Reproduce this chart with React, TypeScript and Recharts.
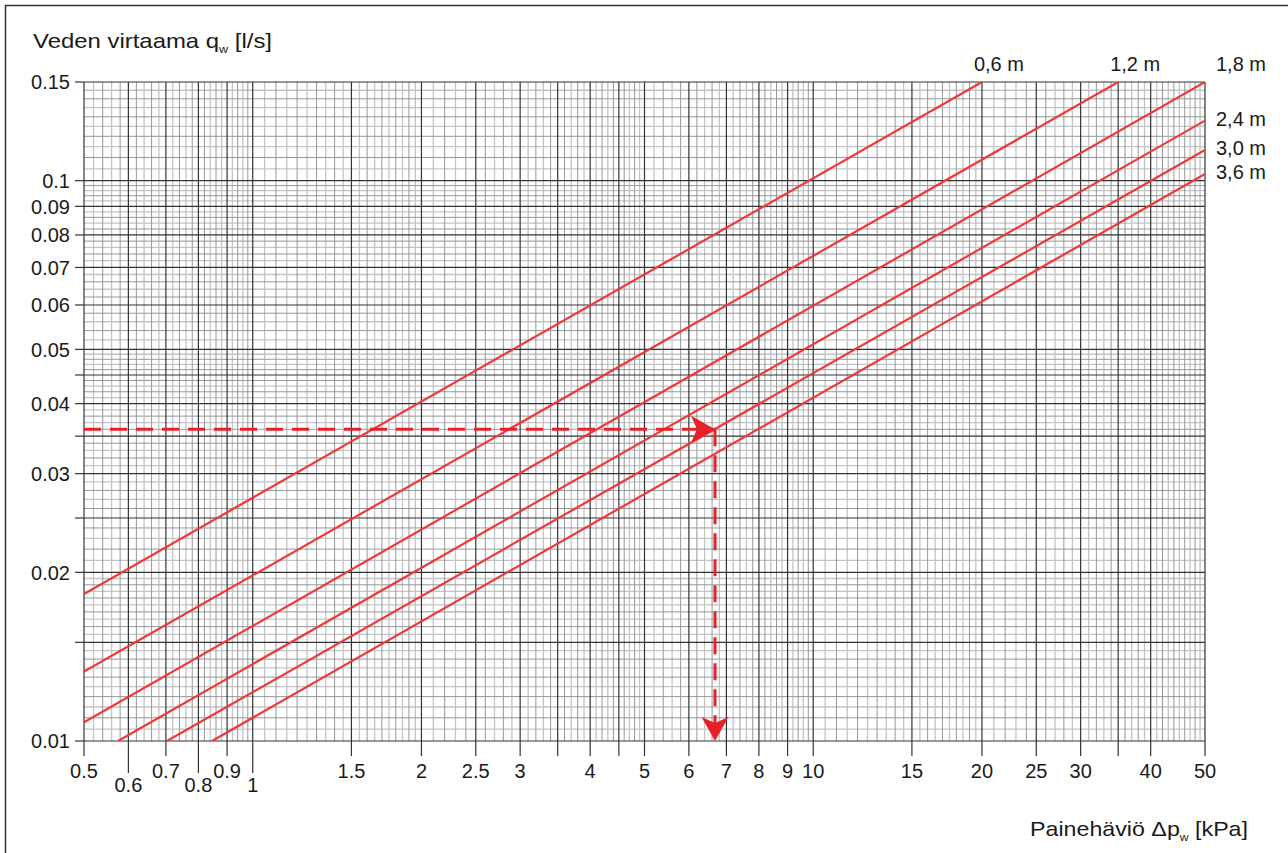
import { LineChart, Line, XAxis, YAxis, CartesianGrid, LabelList, Customized } from 'recharts'

const FONT = '"Liberation Sans", Arial, Helvetica, sans-serif'
const RED = '#ef3838'
const ARROW = '#e8202a'

// pipe lengths, one line each
const seriesNames = ['0,6 m', '1,2 m', '1,8 m', '2,4 m', '3,0 m', '3,6 m']
// pressure drop [kPa] at start / end of each line
const seriesDp = [[0.5, 20], [0.5, 35], [0.5, 50], [0.575, 50], [0.703, 50], [0.846, 50]]
// water flow [l/s] at the same two points
const seriesQ = [[0.0183, 0.15], [0.0133, 0.15], [0.0108, 0.15], [0.01, 0.128], [0.01, 0.1134], [0.01, 0.1028]]
// where the name sits relative to the end of the line
const labelPlace = ['top', 'top', 'corner', 'side', 'side', 'side']

// reading example (dashed arrows)
const exampleDp = [0.5, 6.68]
const exampleQ = [0.036, 0.01]

const xTicks = [0.5, 0.6, 0.7, 0.8, 0.9, 1, 1.5, 2, 2.5, 3, 3.5, 4, 4.5, 5, 6, 7, 8, 9, 10, 15, 20, 25, 30, 35, 40, 50]
const xUnlabelled = [3.5, 4.5, 35]
const xLowRow = [0.6, 0.8, 1]
const yTicks = [0.01, 0.015, 0.02, 0.025, 0.03, 0.035, 0.04, 0.045, 0.05, 0.06, 0.07, 0.08, 0.09, 0.1, 0.15]
const yUnlabelled = [0.015, 0.025, 0.035, 0.045]

// log paper subdivisions: [from, to, step]
const xMinorRanges = [[0.5, 1, 0.02], [1, 2, 0.05], [2, 5, 0.1], [5, 10, 0.2], [10, 20, 0.5], [20, 50, 1]]
const yMinorRanges = [[0.01, 0.02, 0.0005], [0.02, 0.05, 0.001], [0.05, 0.1, 0.002], [0.1, 0.15, 0.005]]

function minorLines(ranges: number[][], majors: number[]) {
  const light: number[] = []
  const mid: number[] = []
  ranges.forEach(([a, b, s]) => {
    const n = Math.round((b - a) / s)
    for (let k = 1; k < n; k++) {
      const v = +(a + k * s).toFixed(6)
      if (majors.some((m) => Math.abs(m - v) < 1e-9)) continue
      if (k % 2) light.push(v)
      else mid.push(v)
    }
  })
  return { light, mid }
}

const xMinor = minorLines(xMinorRanges, xTicks)
const yMinor = minorLines(yMinorRanges, yTicks)

const series = seriesNames.map((name, i) => ({
  name,
  place: labelPlace[i],
  data: seriesDp[i].map((dp, j) => ({ dp, q: seriesQ[i][j] })),
}))

const hArrow = exampleDp.map((dp) => ({ dp, q: exampleQ[0] }))
const vArrow = exampleQ.map((q) => ({ dp: exampleDp[1], q }))

function XTick(props: any) {
  const { x, y, payload } = props
  const v = payload.value
  const low = xLowRow.includes(v)
  return (
    <g>
      <line x1={x} y1={y} x2={x} y2={y + (low ? 32 : 15)} stroke="#333" strokeWidth={1.2} />
      {!xUnlabelled.includes(v) && (
        <text x={x} y={y + (low ? 51 : 37)} textAnchor="middle" fontSize={20} fontFamily={FONT} fill="#1a1a1a">
          {String(v)}
        </text>
      )}
    </g>
  )
}

function YTick(props: any) {
  const { x, y, payload } = props
  const v = payload.value
  return (
    <g>
      <line x1={x - 9} y1={y} x2={x} y2={y} stroke="#333" strokeWidth={1.2} />
      {!yUnlabelled.includes(v) && (
        <text x={x - 14} y={y} dy="0.36em" textAnchor="end" fontSize={20} fontFamily={FONT} fill="#1a1a1a">
          {String(v)}
        </text>
      )}
    </g>
  )
}

function endLabel(name: string, place: string) {
  return (p: any) => {
    if (p.index !== 1) return null
    const x = Number(p.x)
    const y = Number(p.y)
    let tx = x + 11
    let ty = y + 5
    let anchor = 'start'
    if (place === 'top') { tx = x + 17; ty = y - 11; anchor = 'middle' }
    if (place === 'corner') { ty = y - 11 }
    return (
      <text key={name} x={tx} y={ty} textAnchor={anchor} fontSize={20} fontFamily={FONT} fill="#1a1a1a">
        {name}
      </text>
    )
  }
}

function arrowHead(dir: string) {
  return (p: any) => {
    const { cx, cy, index } = p
    if (index !== 1) return <g key={`n${index}`} />
    const L = 24
    const w = 13.5
    const n = 6
    const d = dir === 'right'
      ? `M${cx},${cy} L${cx - L},${cy - w} L${cx - L + n},${cy} L${cx - L},${cy + w} Z`
      : `M${cx},${cy} L${cx - w},${cy - L} L${cx},${cy - L + n} L${cx + w},${cy - L} Z`
    return <path key={`h${index}`} d={d} fill={ARROW} />
  }
}

function Titles() {
  return (
    <g fontFamily={FONT} fill="#1a1a1a">
      <path d="M5.5,853 L5.5,5.5 L1288,5.5" fill="none" stroke="#333" strokeWidth={1.5} />
      <text x={33} y={48} fontSize={21} textLength={239} lengthAdjust="spacingAndGlyphs">
        Veden virtaama q<tspan fontSize={11} dy={5}>w</tspan><tspan dy={-5}> [l/s]</tspan>
      </text>
      <text x={1030} y={836} fontSize={21} textLength={218} lengthAdjust="spacingAndGlyphs">
        Painehäviö Δp<tspan fontSize={11} dy={5}>w</tspan><tspan dy={-5}> [kPa]</tspan>
      </text>
    </g>
  )
}

export default function App() {
  return (
    <div style={{ position: 'absolute', left: 0, top: 0, width: 1288, height: 853, background: '#fff' }}>
      <LineChart width={1288} height={853} margin={{ top: 82, right: 83, left: 0, bottom: 0 }}>
        <CartesianGrid verticalValues={xMinor.light} horizontalValues={yMinor.light} stroke="#c4c4c4" strokeWidth={1.3} />
        <CartesianGrid verticalValues={xMinor.mid} horizontalValues={yMinor.mid} stroke="#979797" strokeWidth={1} />
        <CartesianGrid verticalValues={xTicks} horizontalValues={yTicks} stroke="#333" strokeWidth={1.2} />
        <XAxis
          type="number"
          dataKey="dp"
          scale="log"
          domain={[0.5, 50]}
          allowDataOverflow
          ticks={xTicks}
          interval={0}
          height={112}
          axisLine={false}
          tickLine={false}
          tickSize={0}
          tickMargin={0}
          tick={<XTick />}
        />
        <YAxis
          type="number"
          dataKey="q"
          scale="log"
          domain={[0.01, 0.15]}
          allowDataOverflow
          ticks={yTicks}
          interval={0}
          width={84}
          axisLine={false}
          tickLine={false}
          tickSize={0}
          tickMargin={0}
          tick={<YTick />}
        />
        {series.map((s) => (
          <Line
            key={s.name}
            data={s.data}
            dataKey="q"
            type="linear"
            stroke={RED}
            strokeWidth={2.2}
            dot={false}
            isAnimationActive={false}
          >
            <LabelList dataKey="q" content={endLabel(s.name, s.place)} />
          </Line>
        ))}
        <Line
          data={hArrow}
          dataKey="q"
          type="linear"
          stroke={ARROW}
          strokeWidth={3}
          strokeDasharray="17 9"
          dot={arrowHead('right')}
          activeDot={false}
          isAnimationActive={false}
        />
        <Line
          data={vArrow}
          dataKey="q"
          type="linear"
          stroke={ARROW}
          strokeWidth={3}
          strokeDasharray="17 9"
          dot={arrowHead('down')}
          activeDot={false}
          isAnimationActive={false}
        />
        <Customized component={Titles} />
      </LineChart>
    </div>
  )
}
